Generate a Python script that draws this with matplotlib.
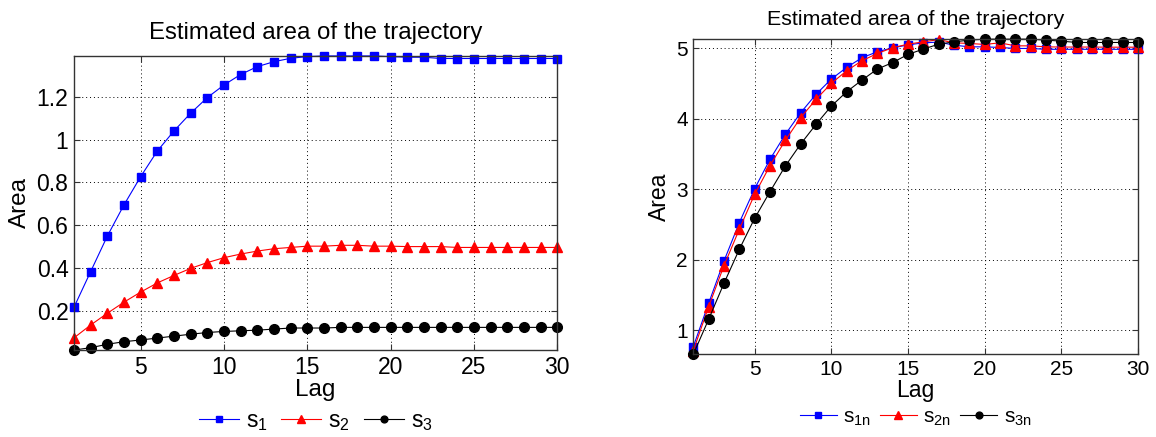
import numpy as np
import matplotlib
matplotlib.use('Agg')
from matplotlib import pyplot as plt

plt.rcParams['font.family'] = ['Liberation Sans', 'DejaVu Sans']
plt.rcParams['mathtext.fontset'] = 'custom'
plt.rcParams['mathtext.rm'] = 'Liberation Sans'
plt.rcParams['mathtext.it'] = 'Liberation Sans'

# lag axis
lags = np.arange(1, 31)

# left panel: s1, s2, s3
s1 = [0.216, 0.383, 0.549, 0.695, 0.827, 0.947, 1.041, 1.124, 1.197, 1.256,
      1.305, 1.342, 1.365, 1.381, 1.389, 1.392, 1.392, 1.392, 1.392, 1.389,
      1.386, 1.386, 1.380, 1.380, 1.380, 1.380, 1.380, 1.380, 1.380, 1.380]
s2 = [0.073, 0.133, 0.188, 0.240, 0.287, 0.330, 0.365, 0.398, 0.425, 0.448,
      0.465, 0.479, 0.490, 0.496, 0.502, 0.502, 0.506, 0.506, 0.502, 0.502,
      0.500, 0.500, 0.500, 0.496, 0.496, 0.496, 0.496, 0.496, 0.496, 0.496]
s3 = [0.016, 0.027, 0.043, 0.055, 0.063, 0.072, 0.081, 0.090, 0.098, 0.103,
      0.106, 0.109, 0.114, 0.119, 0.119, 0.119, 0.122, 0.122, 0.122, 0.122,
      0.122, 0.122, 0.122, 0.122, 0.122, 0.122, 0.122, 0.122, 0.122, 0.122]

# right panel: normalized s1n, s2n, s3n
s1n = [0.768, 1.383, 1.983, 2.527, 3.009, 3.426, 3.780, 4.087, 4.348, 4.565,
       4.730, 4.868, 4.953, 5.009, 5.050, 5.080, 5.090, 5.047, 5.023, 5.023,
       5.014, 5.000, 5.000, 4.988, 4.988, 4.988, 4.988, 4.988, 4.988, 4.988]
s2n = [0.710, 1.336, 1.917, 2.433, 2.929, 3.336, 3.695, 4.017, 4.277, 4.504,
       4.683, 4.825, 4.929, 5.010, 5.061, 5.094, 5.125, 5.080, 5.071, 5.057,
       5.080, 5.037, 5.037, 5.023, 5.020, 5.020, 5.020, 5.018, 5.018, 5.018]
s3n = [0.660, 1.156, 1.667, 2.149, 2.589, 2.967, 3.331, 3.643, 3.922, 4.182,
       4.385, 4.551, 4.707, 4.800, 4.915, 4.991, 5.060, 5.094, 5.118, 5.132,
       5.132, 5.132, 5.132, 5.118, 5.104, 5.085, 5.085, 5.085, 5.085, 5.085]

xticks = [5, 10, 15, 20, 25, 30]
left_yticks = [0.2, 0.4, 0.6, 0.8, 1.0, 1.2]
left_ylabels = ['0.2', '0.4', '0.6', '0.8', '1', '1.2']
right_yticks = [1, 2, 3, 4, 5]
title = 'Estimated area of the trajectory'

fig = plt.figure(figsize=(11.56, 4.37), dpi=100)
ax1 = fig.add_axes([0.064, 0.199, 0.418, 0.673])
ax2 = fig.add_axes([0.5997, 0.189, 0.3847, 0.7227])


def style(ax, fs):
    ax.grid(True, color='black', linestyle=(0, (1, 3)), linewidth=0.7)
    ax.set_axisbelow(True)
    ax.tick_params(direction='in', length=4, width=0.8, top=True, right=True,
                   labelsize=fs, pad=4, color='#333333')
    for sp in ax.spines.values():
        sp.set_color('#333333')
        sp.set_linewidth(1.0)
    ax.set_xlim(1, 30)
    ax.set_xticks(xticks)


def draw(ax, ys, labels):
    ax.plot(lags, ys[0], '-s', color='#0000ff', lw=0.8, ms=6, label=labels[0], clip_on=False)
    ax.plot(lags, ys[1], '-^', color='#ff0000', lw=0.8, ms=7.5, label=labels[1], clip_on=False)
    ax.plot(lags, ys[2], '-o', color='black', lw=0.8, ms=7, label=labels[2], clip_on=False)


# left
draw(ax1, [s1, s2, s3], [r'$\mathregular{s_1}$', r'$\mathregular{s_2}$', r'$\mathregular{s_3}$'])
style(ax1, 16.5)
ax1.set_ylim(0.016, 1.392)
ax1.set_yticks(left_yticks)
ax1.set_yticklabels(left_ylabels)
ax1.set_title(title, fontsize=17.3, pad=12)
ax1.set_xlabel('Lag', fontsize=17.5, labelpad=0)
ax1.set_ylabel('Area', fontsize=17.5, labelpad=4)
ax1.legend(loc='center', bbox_to_anchor=(0.5, -0.24), ncol=3, frameon=False,
           fontsize=16.5, handlelength=1.75, handletextpad=0.3, columnspacing=0.6,
           markerscale=0.7)

# right
draw(ax2, [s1n, s2n, s3n], [r'$\mathregular{s_{1n}}$', r'$\mathregular{s_{2n}}$', r'$\mathregular{s_{3n}}$'])
style(ax2, 15)
ax2.set_ylim(0.66, 5.14)
ax2.set_yticks(right_yticks)
ax2.set_title(title, fontsize=15.4, pad=10)
ax2.set_xlabel('Lag', fontsize=16.5, labelpad=0)
ax2.set_ylabel('Area', fontsize=16.5, labelpad=4)
ax2.legend(loc='center', bbox_to_anchor=(0.5, -0.2), ncol=3, frameon=False,
           fontsize=15, handlelength=1.8, handletextpad=0.3, columnspacing=0.4,
           markerscale=0.7)

fig.savefig('out.png', dpi=100)
